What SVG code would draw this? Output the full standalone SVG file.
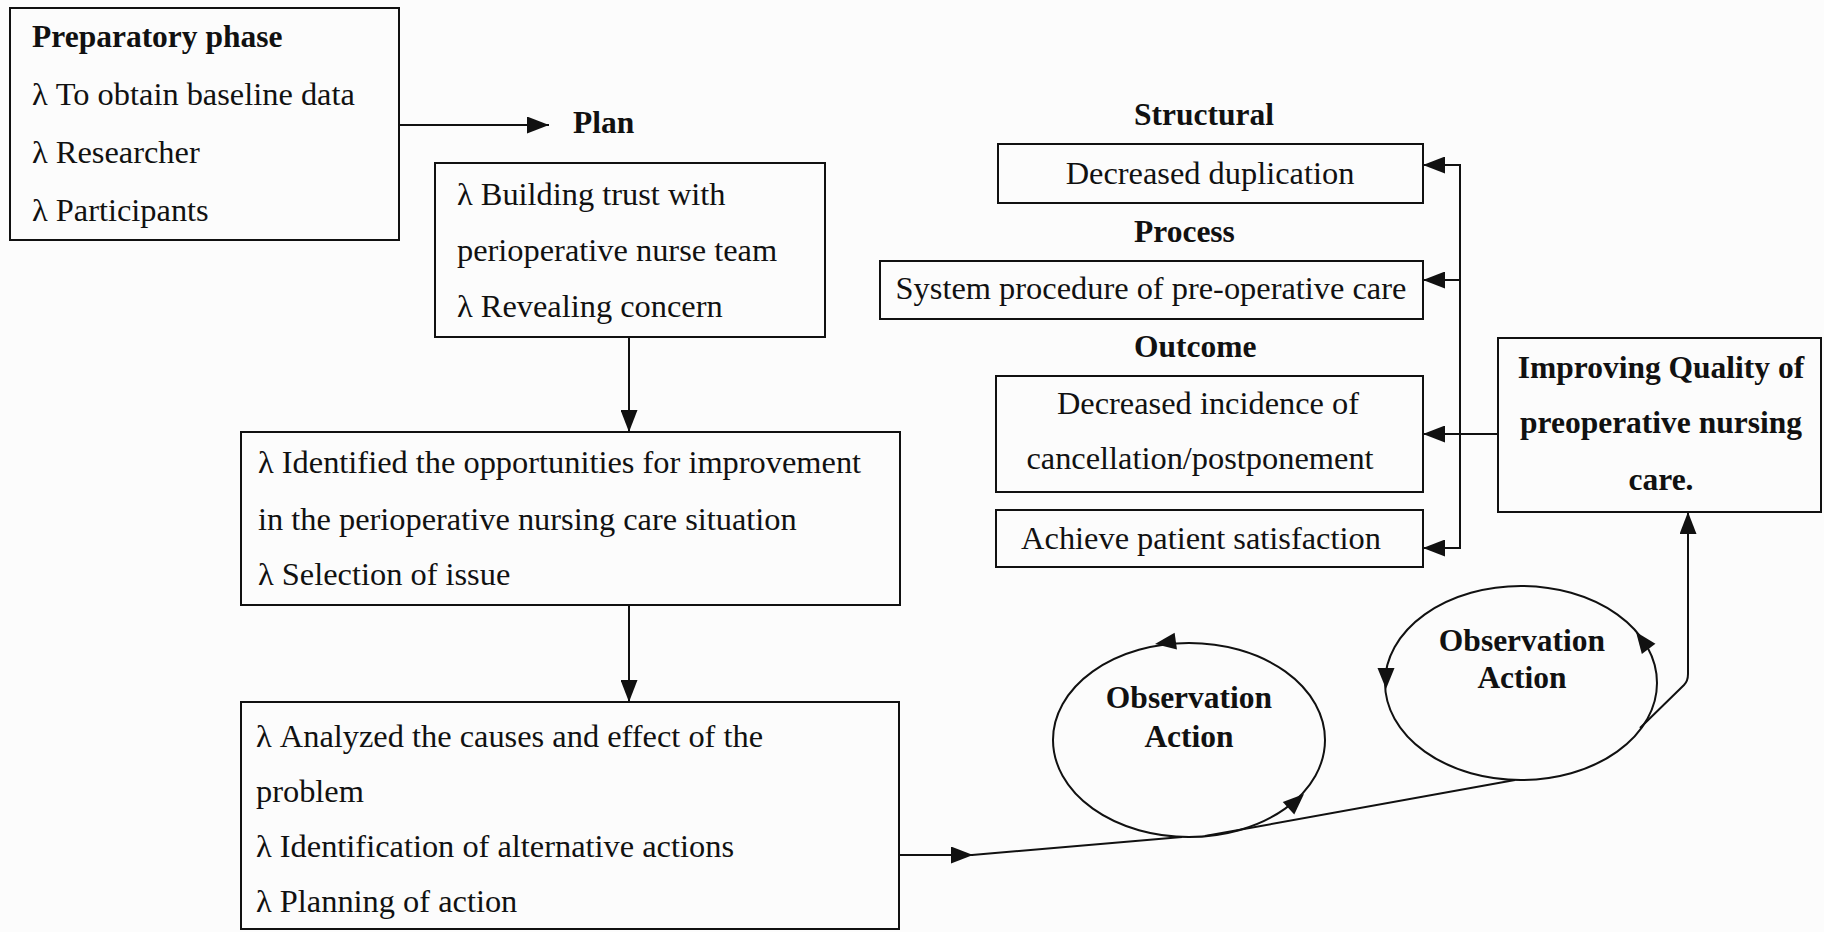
<svg xmlns="http://www.w3.org/2000/svg" width="1824" height="932" viewBox="0 0 1824 932">
<defs>
<style>
.bx{fill:none;stroke:#111;stroke-width:2}
.ln{fill:none;stroke:#111;stroke-width:2}
.t{font-family:"Liberation Serif","Times New Roman",serif;font-size:32.4px;fill:#111}
.b{font-family:"Liberation Serif","Times New Roman",serif;font-size:31.5px;font-weight:bold;fill:#111}
.c{text-anchor:middle}
.ah{fill:#111}
</style>
<marker id="arr" viewBox="0 0 22 17" refX="22" refY="8.5" markerWidth="22" markerHeight="17" markerUnits="userSpaceOnUse" orient="auto">
<path d="M0,0 L22,8.5 L0,17 Z" fill="#111"/>
</marker>
<path id="head" d="M0,0 L-21,-8.5 L-21,8.5 Z"/>
</defs>
<rect width="1824" height="932" fill="#fcfcfc"/>

<g id="connectors">
<line class="ln" x1="399" y1="125" x2="549" y2="125" marker-end="url(#arr)"/>
<line class="ln" x1="629" y1="337" x2="629" y2="432" marker-end="url(#arr)"/>
<line class="ln" x1="629" y1="605" x2="629" y2="702" marker-end="url(#arr)"/>
<line class="ln" x1="899" y1="855" x2="973" y2="855" marker-end="url(#arr)"/>
<line class="ln" x1="972" y1="855" x2="1182" y2="837"/>
<line class="ln" x1="1205" y1="836" x2="1515" y2="780"/>
<path class="ln" d="M1640,728 L1684,685 Q1688,681 1688,674 L1688,512" marker-end="url(#arr)"/>
<line class="ln" x1="1498" y1="434" x2="1423" y2="434" marker-end="url(#arr)"/>
<path class="ln" d="M1460,165 L1460,548"/>
<line class="ln" x1="1461" y1="165" x2="1423" y2="165" marker-end="url(#arr)"/>
<line class="ln" x1="1461" y1="280" x2="1423" y2="280" marker-end="url(#arr)"/>
<line class="ln" x1="1461" y1="548" x2="1423" y2="548" marker-end="url(#arr)"/>
</g>

<g id="prep">
<rect class="bx" x="10" y="8" width="389" height="232"/>
<text class="b" x="32" y="47">Preparatory phase</text>
<text class="t" x="32" y="105">λ To obtain baseline data</text>
<text class="t" x="32" y="163">λ Researcher</text>
<text class="t" x="32" y="221">λ Participants</text>
</g>

<g id="plan-label">
<text class="b" x="573" y="133">Plan</text>
</g>

<g id="plan">
<rect class="bx" x="435" y="163" width="390" height="174"/>
<text class="t" x="457" y="205">λ Building trust with</text>
<text class="t" x="457" y="261">perioperative nurse team</text>
<text class="t" x="457" y="317">λ Revealing concern</text>
</g>

<g id="identified">
<rect class="bx" x="241" y="432" width="659" height="173"/>
<text class="t" x="258" y="473">λ Identified the opportunities for improvement</text>
<text class="t" x="258" y="530">in the perioperative nursing care situation</text>
<text class="t" x="258" y="585">λ Selection of issue</text>
</g>

<g id="analyzed">
<rect class="bx" x="241" y="702" width="658" height="227"/>
<text class="t" x="256" y="747">λ Analyzed the causes and effect of the</text>
<text class="t" x="256" y="802">problem</text>
<text class="t" x="256" y="857">λ Identification of alternative actions</text>
<text class="t" x="256" y="912">λ Planning of action</text>
</g>

<g id="structural">
<text class="b" x="1134" y="125">Structural</text>
<rect class="bx" x="998" y="144" width="425" height="59"/>
<text class="t c" x="1210" y="184">Decreased duplication</text>
</g>

<g id="process">
<text class="b" x="1134" y="242">Process</text>
<rect class="bx" x="880" y="261" width="543" height="58"/>
<text class="t c" x="1151" y="299">System procedure of pre-operative care</text>
</g>

<g id="outcome">
<text class="b" x="1134" y="357">Outcome</text>
<rect class="bx" x="996" y="376" width="427" height="116"/>
<text class="t c" x="1208" y="414">Decreased incidence of</text>
<text class="t c" x="1200" y="469">cancellation/postponement</text>
</g>

<g id="satisfaction">
<rect class="bx" x="996" y="510" width="427" height="57"/>
<text class="t c" x="1201" y="549">Achieve patient satisfaction</text>
</g>

<g id="improving">
<rect class="bx" x="1498" y="338" width="323" height="174"/>
<text class="b c" x="1661" y="378">Improving Quality of</text>
<text class="b c" x="1661" y="433">preoperative nursing</text>
<text class="b c" x="1661" y="490">care.</text>
</g>

<g id="cycle1">
<ellipse class="ln" cx="1189" cy="740" rx="136" ry="97"/>
<use href="#head" class="ah" transform="translate(1155,644) rotate(172)"/>
<use href="#head" class="ah" transform="translate(1304,794) rotate(-42.5)"/>
<text class="b c" x="1189" y="708">Observation</text>
<text class="b c" x="1189" y="747">Action</text>
</g>

<g id="cycle2">
<ellipse class="ln" cx="1521" cy="683" rx="136" ry="97"/>
<use href="#head" class="ah" transform="translate(1386,689) rotate(90)"/>
<use href="#head" class="ah" transform="translate(1636,632) rotate(-127)"/>
<text class="b c" x="1522" y="651">Observation</text>
<text class="b c" x="1522" y="688">Action</text>
</g>
</svg>
